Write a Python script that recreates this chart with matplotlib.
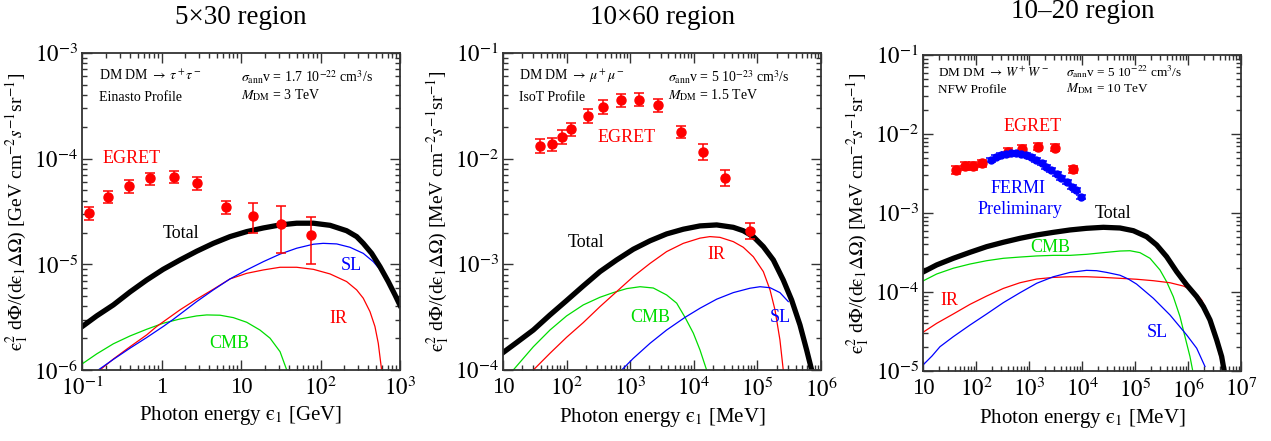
import matplotlib
matplotlib.use('Agg')
import matplotlib.pyplot as plt
import numpy as np
from matplotlib.ticker import FixedLocator, FuncFormatter, NullFormatter

plt.rcParams['font.family'] = ['Liberation Serif', 'DejaVu Serif']
plt.rcParams['mathtext.fontset'] = 'stix'

# ---------------- panel 1: 5x30 region (GeV) ----------------
egret1_e = [0.121, 0.21, 0.394, 0.72, 1.43, 2.79, 6.45, 14.2, 32, 75.4]
egret1_f = [3.03e-5, 4.35e-5, 5.53e-5, 6.53e-5, 6.73e-5, 5.9e-5, 3.48e-5, 2.88e-5, 2.43e-5, 1.89e-5]
egret1_dup = [0.063, 0.056, 0.053, 0.054, 0.056, 0.057, 0.06, 0.117, 0.167, 0.17]   # dex
egret1_dlo = [0.063, 0.057, 0.067, 0.06, 0.063, 0.063, 0.063, 0.161, 0.277, 0.277]

tot1_e = [0.1, 0.153, 0.248, 0.402, 0.652, 1.05, 1.71, 2.77, 4.49, 7.28, 11.8, 19.1, 31.0,
          50.1, 81.3, 132, 213, 285, 345, 440, 560, 713, 865, 1000]
tot1_f = [2.57e-6, 3.25e-6, 4.13e-6, 5.48e-6, 7.11e-6, 8.97e-6, 1.10e-5, 1.33e-5, 1.58e-5,
          1.83e-5, 2.04e-5, 2.21e-5, 2.36e-5, 2.45e-5, 2.45e-5, 2.34e-5, 2.08e-5, 1.83e-5,
          1.58e-5, 1.27e-5, 9.5e-6, 6.85e-6, 5.14e-6, 4.1e-6]
sl1_e = [0.160, 0.248, 0.402, 0.652, 1.05, 1.41, 2.77, 4.49, 7.28, 11.8, 19.1, 31.0, 50.1,
         81.3, 108, 160, 235, 345, 461, 617, 748]
sl1_f = [1.0e-6, 1.26e-6, 1.61e-6, 2.03e-6, 2.58e-6, 3.02e-6, 4.44e-6, 5.73e-6, 7.28e-6,
         8.85e-6, 1.06e-5, 1.25e-5, 1.42e-5, 1.55e-5, 1.58e-5, 1.56e-5, 1.45e-5, 1.27e-5,
         1.06e-5, 8.22e-6, 6.62e-6]
ir1_e = [0.168, 0.248, 0.402, 0.652, 0.869, 1.71, 2.77, 4.49, 7.28, 11.8, 19.1, 31.0, 50.1,
         81.3, 132, 213, 285, 345, 419, 484, 533, 587]
ir1_f = [1.0e-6, 1.27e-6, 1.66e-6, 2.15e-6, 2.58e-6, 3.71e-6, 4.68e-6, 5.81e-6, 7.28e-6,
         8.22e-6, 8.85e-6, 9.38e-6, 9.38e-6, 8.97e-6, 8.11e-6, 6.87e-6, 5.73e-6, 4.78e-6,
         3.57e-6, 2.58e-6, 1.79e-6, 1.0e-6]
cmb1_e = [0.1, 0.153, 0.248, 0.402, 0.652, 1.05, 1.71, 2.77, 3.70, 5.45, 8.02, 11.8, 17.3,
          23.2, 31.0, 37.6]
cmb1_f = [1.14e-6, 1.42e-6, 1.77e-6, 2.10e-6, 2.43e-6, 2.77e-6, 3.04e-6, 3.25e-6, 3.32e-6,
          3.30e-6, 3.13e-6, 2.83e-6, 2.39e-6, 2.0e-6, 1.49e-6, 1.0e-6]

# ---------------- panel 2: 10x60 region (MeV) ----------------
egret2_e = [38.7, 59.8, 85, 119, 218, 377, 706, 1356, 2767, 6380, 14170, 31100, 76000]
egret2_f = [0.0132, 0.0137, 0.016, 0.0189, 0.0252, 0.0308, 0.0357, 0.0362, 0.032,
            0.0179, 0.0115, 0.00658, 0.00207]
egret2_dup = [0.063, 0.063, 0.063, 0.063, 0.065, 0.063, 0.063, 0.063, 0.063, 0.06, 0.075, 0.075, 0.079]
egret2_dlo = egret2_dup

tot2_e = [10, 16.4, 30.0, 54.8, 100, 183, 335, 612, 1120, 2050, 3740, 6840, 12500, 22900,
          41800, 60000, 86300, 124000, 178000, 255000, 345000, 467000, 594000, 713000]
tot2_f = [1.46e-4, 1.82e-4, 2.39e-4, 3.32e-4, 4.54e-4, 6.25e-4, 8.53e-4, 1.10e-3, 1.39e-3,
          1.67e-3, 1.94e-3, 2.15e-3, 2.31e-3, 2.36e-3, 2.24e-3, 2.08e-3, 1.83e-3, 1.47e-3,
          1.10e-3, 7.11e-4, 4.60e-4, 2.67e-4, 1.55e-4, 1.0e-4]
ir2_e = [30.0, 54.8, 100, 183, 335, 612, 1120, 2050, 3740, 6840, 12500, 17900, 25800, 41800,
         60000, 86300, 124000, 158000, 189000, 226000, 255000]
ir2_f = [1.0e-4, 1.44e-4, 2.04e-4, 2.81e-4, 3.98e-4, 5.52e-4, 7.66e-4, 1.02e-3, 1.32e-3,
         1.58e-3, 1.77e-3, 1.83e-3, 1.80e-3, 1.64e-3, 1.45e-3, 1.18e-3, 8.53e-4, 5.73e-4,
         3.71e-4, 1.93e-4, 1.0e-4]
cmb2_e = [14.5, 30.0, 54.8, 100, 183, 335, 542, 879, 1430, 2310, 3740, 5380, 7280, 9840,
          12500, 15900]
cmb2_f = [1.0e-4, 1.66e-4, 2.39e-4, 3.25e-4, 4.13e-4, 4.88e-4, 5.40e-4, 5.89e-4, 6.14e-4,
          5.97e-4, 5.13e-4, 4.29e-4, 3.15e-4, 2.23e-4, 1.55e-4, 1.0e-4]
sl2_e = [735, 1120, 2050, 3740, 7280, 12500, 22900, 41800, 76400, 110000, 158000, 226000, 306000]
sl2_f = [1.0e-4, 1.29e-4, 1.79e-4, 2.39e-4, 3.15e-4, 3.84e-4, 4.68e-4, 5.40e-4, 5.94e-4,
         6.14e-4, 6.01e-4, 5.40e-4, 4.44e-4]

# ---------------- panel 3: 10-20 region (MeV) ----------------
egret3_e = [42, 62, 89, 131, 406, 728, 1500, 3050, 6680]
egret3_f = [3.5e-3, 3.94e-3, 3.94e-3, 4.26e-3, 5.97e-3, 6.52e-3, 6.9e-3, 6.71e-3, 3.57e-3]
egret3_dup = [0.045] * 9
egret3_dlo = egret3_dup
fermi3_e = [195, 243, 302, 375, 467, 579, 721, 895, 1114, 1384, 1722, 2138, 2655,
            3304, 4102, 5105, 6339, 7656, 9376]
fermi3_f = [4.67e-3, 5.05e-3, 5.36e-3, 5.57e-3, 5.68e-3, 5.68e-3, 5.57e-3, 5.36e-3, 5.05e-3,
            4.67e-3, 4.24e-3, 3.85e-3, 3.46e-3, 3.1e-3, 2.76e-3, 2.46e-3, 2.15e-3, 1.95e-3, 1.6e-3]
fermi3_dup = [0.025] * 19

tot3_e = [10, 18.1, 37.3, 77.1, 159, 328, 676, 1400, 2880, 5940, 12200, 25300, 52100, 93100,
          166000, 256000, 395000, 611000, 944000, 1.46e6, 1.95e6, 2.60e6, 3.48e6, 4.32e6, 4.78e6]
tot3_f = [1.79e-4, 2.20e-4, 2.67e-4, 3.18e-4, 3.75e-4, 4.26e-4, 4.78e-4, 5.27e-4, 5.69e-4,
          6.10e-4, 6.40e-4, 6.59e-4, 6.46e-4, 5.97e-4, 5.01e-4, 3.94e-4, 2.80e-4, 1.81e-4,
          1.23e-4, 8.73e-5, 6.52e-5, 4.43e-5, 2.47e-5, 1.52e-5, 1.03e-5]
cmb3_e = [10, 18.1, 37.3, 77.1, 159, 328, 676, 1400, 2880, 5940, 12200, 25300, 52100, 80500,
          124000, 192000, 296000, 395000, 528000, 706000, 877000, 1.09e6, 1.22e6]
cmb3_f = [1.38e-4, 1.69e-4, 2.0e-4, 2.26e-4, 2.49e-4, 2.67e-4, 2.77e-4, 2.86e-4, 2.91e-4,
          2.91e-4, 3.0e-4, 3.15e-4, 3.30e-4, 3.33e-4, 3.15e-4, 2.67e-4, 1.90e-4, 1.35e-4,
          8.73e-5, 4.88e-5, 2.72e-5, 1.52e-5, 1.03e-5]
ir3_e = [10, 18.1, 37.3, 77.1, 159, 328, 676, 1400, 2880, 5940, 12200, 25300, 52100, 107000,
         222000, 457000, 817000, 1.26e6, 1.81e6, 2.42e6, 3.01e6, 3.73e6, 4.65e6]
ir3_f = [3.09e-5, 4.01e-5, 5.27e-5, 6.98e-5, 8.89e-5, 1.11e-4, 1.31e-4, 1.46e-4, 1.53e-4,
         1.56e-4, 1.56e-4, 1.53e-4, 1.49e-4, 1.45e-4, 1.39e-4, 1.31e-4, 1.19e-4, 1.04e-4,
         7.93e-5, 5.37e-5, 3.30e-5, 1.85e-5, 1.03e-5]
sl3_e = [10, 14.8, 20.9, 37.3, 77.1, 159, 328, 676, 1400, 2880, 5940, 12200, 18900, 29200,
         52100, 74800, 107000, 222000, 457000, 944000, 1.46e6, 2.09e6]
sl3_f = [1.19e-5, 1.55e-5, 2.03e-5, 2.72e-5, 3.82e-5, 5.27e-5, 7.33e-5, 9.79e-5, 1.29e-4,
         1.56e-4, 1.77e-4, 1.88e-4, 1.86e-4, 1.77e-4, 1.63e-4, 1.46e-4, 1.26e-4, 8.32e-5,
         5.12e-5, 2.86e-5, 1.94e-5, 1.14e-5]

RED, GREEN, BLUE = '#ff0000', '#00dd00', '#0000ff'
FRAME = '#333333'
EPS = '\\mathrm{\u03f5}'   # lunate epsilon, as in the original


def log_label(v, pos):
    e = int(round(np.log10(v)))
    if e == 0:
        return '1'
    if e == 1:
        return '10'
    return r'$10^{%d}$' % e


def ylog_label(v, pos):
    return r'$10^{%d}$' % int(round(np.log10(v)))


def setup_axes(ax, xlim, ylim, unit):
    ax.set_xscale('log')
    ax.set_yscale('log')
    ax.set_xlim(*xlim)
    ax.set_ylim(*ylim)
    xd = range(int(np.log10(xlim[0])), int(np.log10(xlim[1])) + 1)
    yd = range(int(np.log10(ylim[0])), int(np.log10(ylim[1])) + 1)
    ax.xaxis.set_major_locator(FixedLocator([10.0 ** d for d in xd]))
    ax.yaxis.set_major_locator(FixedLocator([10.0 ** d for d in yd]))
    ax.xaxis.set_minor_locator(FixedLocator([m * 10.0 ** d for d in xd for m in range(2, 10)]))
    ax.yaxis.set_minor_locator(FixedLocator([m * 10.0 ** d for d in yd for m in range(2, 10)]))
    ax.xaxis.set_major_formatter(FuncFormatter(log_label))
    ax.yaxis.set_major_formatter(FuncFormatter(ylog_label))
    ax.xaxis.set_minor_formatter(NullFormatter())
    ax.yaxis.set_minor_formatter(NullFormatter())
    ax.tick_params(which='both', direction='in', top=True, right=True, color=FRAME,
                   labelsize=16.5, width=1.0)
    ax.tick_params(which='major', length=7)
    ax.tick_params(which='minor', length=3.5)
    ax.tick_params(axis='x', pad=5)
    ax.tick_params(axis='y', pad=3)
    for s in ax.spines.values():
        s.set_color(FRAME)
        s.set_linewidth(1.3)
    ax.set_xlabel('Photon energy $%s_1$ [%s]' % (EPS, unit), fontsize=15, labelpad=3)
    ax.set_ylabel('$%s_1^2$ d$\\Phi$/(d$%s_1\\Delta\\Omega$) '
                  '[%s cm$^{-2}s^{-1}$sr$^{-1}$]' % (EPS, EPS, unit), fontsize=14, labelpad=2)


def egret(ax, e, f, dup, dlo, color=RED, ms=6.5):
    f = np.array(f)
    lo = f - f / 10 ** np.array(dlo)
    hi = f * 10 ** np.array(dup) - f
    ax.errorbar(e, f, yerr=[lo, hi], fmt='o', color=color, ms=ms, capsize=3.5,
                elinewidth=1.1, capthick=1.1, zorder=5)


fig = plt.figure(figsize=(12.71, 4.41), dpi=100)
W, H = 1271.0, 441.0
ax1 = fig.add_axes([82 / W, (H - 370) / H, 318 / W, 317 / H])
ax2 = fig.add_axes([503 / W, (H - 370) / H, 318 / W, 317 / H])
ax3 = fig.add_axes([923 / W, (H - 371) / H, 318 / W, 316 / H])

small = 10
big = 13

# panel 1
setup_axes(ax1, (0.1, 1000), (1e-6, 1e-3), 'GeV')
ax1.plot(cmb1_e, cmb1_f, color=GREEN, lw=0.9)
ax1.plot(ir1_e, ir1_f, color=RED, lw=0.9)
ax1.plot(sl1_e, sl1_f, color=BLUE, lw=0.9)
ax1.plot(tot1_e, tot1_f, color='black', lw=3.8, solid_joinstyle='round')
egret(ax1, egret1_e, egret1_f, egret1_dup, egret1_dlo)
t = ax1.transAxes
ax1.text(0.053, 0.927, r'DM DM $\rightarrow\,\tau^+\tau^-$', transform=t, fontsize=small, va='center')
ax1.text(0.053, 0.861, 'Einasto Profile', transform=t, fontsize=small, va='center')
ax1.text(0.50, 0.924, r'$\sigma_{\mathrm{ann}}$v = 1.7 10$^{-22}$ cm$^3$/s', transform=t,
         fontsize=small, va='center')
ax1.text(0.50, 0.867, r'$M_{\mathrm{DM}}$ = 3 TeV', transform=t, fontsize=small, va='center')
ax1.text(0.157, 0.666, 'EGRET', transform=t, fontsize=big, color=RED, ha='center', va='center')
ax1.text(0.311, 0.432, 'Total', transform=t, fontsize=big, ha='center', va='center')
ax1.text(0.846, 0.331, 'SL', transform=t, fontsize=big, color=BLUE, ha='center', va='center')
ax1.text(0.805, 0.164, 'IR', transform=t, fontsize=big, color=RED, ha='center', va='center')
ax1.text(0.462, 0.085, 'CMB', transform=t, fontsize=big, color=GREEN, ha='center', va='center')

# panel 2
setup_axes(ax2, (10, 1e6), (1e-4, 1e-1), 'MeV')
ax2.plot(cmb2_e, cmb2_f, color=GREEN, lw=0.9)
ax2.plot(ir2_e, ir2_f, color=RED, lw=0.9)
ax2.plot(sl2_e, sl2_f, color=BLUE, lw=0.9)
ax2.plot(tot2_e, tot2_f, color='black', lw=3.8, solid_joinstyle='round')
egret(ax2, egret2_e, egret2_f, egret2_dup, egret2_dlo)
t = ax2.transAxes
ax2.text(0.05, 0.927, r'DM DM $\rightarrow\,\mu^+\mu^-$', transform=t, fontsize=small, va='center')
ax2.text(0.05, 0.861, 'IsoT Profile', transform=t, fontsize=small, va='center')
ax2.text(0.519, 0.924, r'$\sigma_{\mathrm{ann}}$v = 5 10$^{-23}$ cm$^3$/s', transform=t,
         fontsize=small, va='center')
ax2.text(0.519, 0.867, r'$M_{\mathrm{DM}}$ = 1.5 TeV', transform=t, fontsize=small, va='center')
ax2.text(0.39, 0.732, 'EGRET', transform=t, fontsize=big, color=RED, ha='center', va='center')
ax2.text(0.261, 0.401, 'Total', transform=t, fontsize=big, ha='center', va='center')
ax2.text(0.67, 0.363, 'IR', transform=t, fontsize=big, color=RED, ha='center', va='center')
ax2.text(0.462, 0.167, 'CMB', transform=t, fontsize=big, color=GREEN, ha='center', va='center')
ax2.text(0.871, 0.167, 'SL', transform=t, fontsize=big, color=BLUE, ha='center', va='center')

# panel 3 (its header lines sit closer together)
small3 = 9.5
setup_axes(ax3, (10, 1e7), (1e-5, 1e-1), 'MeV')
ax3.plot(cmb3_e, cmb3_f, color=GREEN, lw=0.9)
ax3.plot(ir3_e, ir3_f, color=RED, lw=0.9)
ax3.plot(sl3_e, sl3_f, color=BLUE, lw=0.9)
ax3.plot(tot3_e, tot3_f, color='black', lw=3.8, solid_joinstyle='round')
egret(ax3, egret3_e, egret3_f, egret3_dup, egret3_dlo)
egret(ax3, fermi3_e, fermi3_f, fermi3_dup, fermi3_dup, color=BLUE, ms=5)
t = ax3.transAxes
ax3.text(0.047, 0.945, r'DM DM $\rightarrow\,W^+W^-$', transform=t, fontsize=small3, va='center')
ax3.text(0.047, 0.890, 'NFW Profile', transform=t, fontsize=small3, va='center')
ax3.text(0.45, 0.948, r'$\sigma_{\mathrm{ann}}$v = 5 10$^{-22}$ cm$^3$/s', transform=t,
         fontsize=small3, va='center')
ax3.text(0.45, 0.893, r'$M_{\mathrm{DM}}$ = 10 TeV', transform=t, fontsize=small3, va='center')
ax3.text(0.346, 0.775, 'EGRET', transform=t, fontsize=big, color=RED, ha='center', va='center')
ax3.text(0.299, 0.576, 'FERMI', transform=t, fontsize=big, color=BLUE, ha='center', va='center')
ax3.text(0.305, 0.51, 'Preliminary', transform=t, fontsize=big, color=BLUE, ha='center', va='center')
ax3.text(0.597, 0.50, 'Total', transform=t, fontsize=big, ha='center', va='center')
ax3.text(0.399, 0.392, 'CMB', transform=t, fontsize=big, color=GREEN, ha='center', va='center')
ax3.text(0.082, 0.222, 'IR', transform=t, fontsize=big, color=RED, ha='center', va='center')
ax3.text(0.736, 0.123, 'SL', transform=t, fontsize=big, color=BLUE, ha='center', va='center')

# panel titles (the third one sits at the very top edge, as in the original)
fig.text(241 / W, 1 - 18 / H, u'5\u00d730 region', fontsize=19.5, ha='center', va='center')
fig.text(663 / W, 1 - 18 / H, u'10\u00d760 region', fontsize=19.5, ha='center', va='center')
fig.text(1083 / W, 1 - 11 / H, u'10\u201320 region', fontsize=19.5, ha='center', va='center')

fig.savefig('out.png', dpi=100)
